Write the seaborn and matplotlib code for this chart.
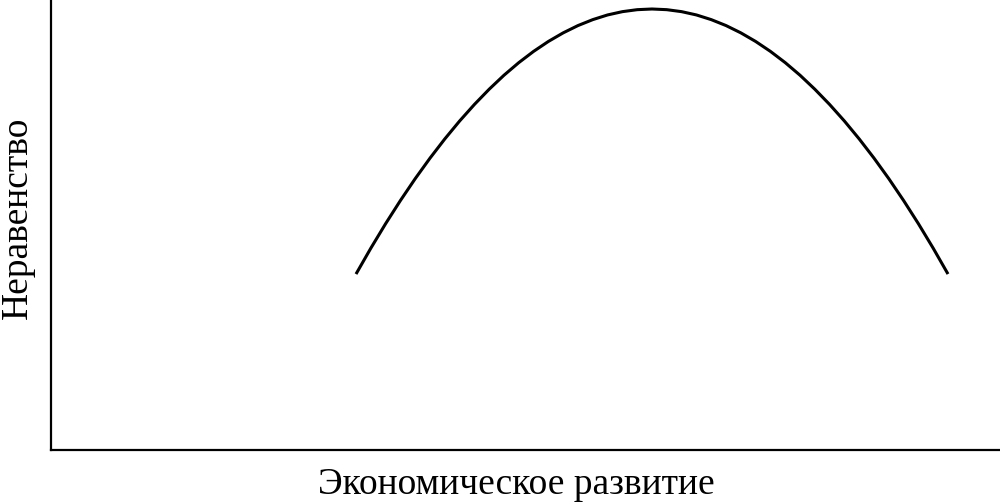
import matplotlib
matplotlib.use("Agg")
import matplotlib.pyplot as plt
import seaborn as sns
import pandas as pd

# Values (development index, inequality index; 0-100 scale)
development = [32.14, 33.70, 35.26, 36.82, 38.38, 39.94, 41.50, 43.06, 44.62, 46.18,
               47.73, 49.29, 50.85, 52.41, 53.97, 55.53, 57.09, 58.65, 60.21, 61.77,
               63.33,
               64.89, 66.45, 68.01, 69.57, 71.13, 72.69, 74.25, 75.81, 77.37, 78.93,
               80.48, 82.04, 83.60, 85.16, 86.72, 88.28, 89.84, 91.40, 92.96, 94.52]
inequality = [39.11, 44.85, 50.30, 55.45, 60.31, 64.87, 69.14, 73.12, 76.80, 80.19,
              83.28, 86.08, 88.58, 90.79, 92.70, 94.32, 95.64, 96.68, 97.41, 97.85,
              98.00,
              97.85, 97.41, 96.68, 95.64, 94.32, 92.70, 90.79, 88.58, 86.08, 83.28,
              80.19, 76.80, 73.12, 69.14, 64.87, 60.31, 55.45, 50.30, 44.85, 39.11]
x_label = "Экономическое развитие"
y_label = "Неравенство"

df = pd.DataFrame({"x": development, "y": inequality})

sns.set_theme(style="white")
plt.rcParams["font.family"] = ["Liberation Serif", "DejaVu Serif"]

fig = plt.figure(figsize=(10, 5.04), dpi=100)
ax = fig.add_axes([0.051, 0.107, 0.949, 0.893])
sns.lineplot(data=df, x="x", y="y", ax=ax, color="black", linewidth=2.2, sort=False,
             solid_joinstyle="round", solid_capstyle="butt")

ax.set_xlim(0, 100)
ax.set_ylim(0, 100)
ax.set_xticks([])
ax.set_yticks([])
for side in ["top", "right"]:
    ax.spines[side].set_visible(False)
for side in ["left", "bottom"]:
    ax.spines[side].set_color("black")
    ax.spines[side].set_linewidth(1.6)

ax.set_xlabel(x_label, fontsize=27, color="black", va="center", ha="center")
ax.set_ylabel(y_label, fontsize=27, color="black", va="center", ha="center")
ax.xaxis.set_label_coords(0.49, -0.078)
ax.yaxis.set_label_coords(-0.035, 0.516)

fig.savefig("out.png", dpi=100, facecolor="white")
